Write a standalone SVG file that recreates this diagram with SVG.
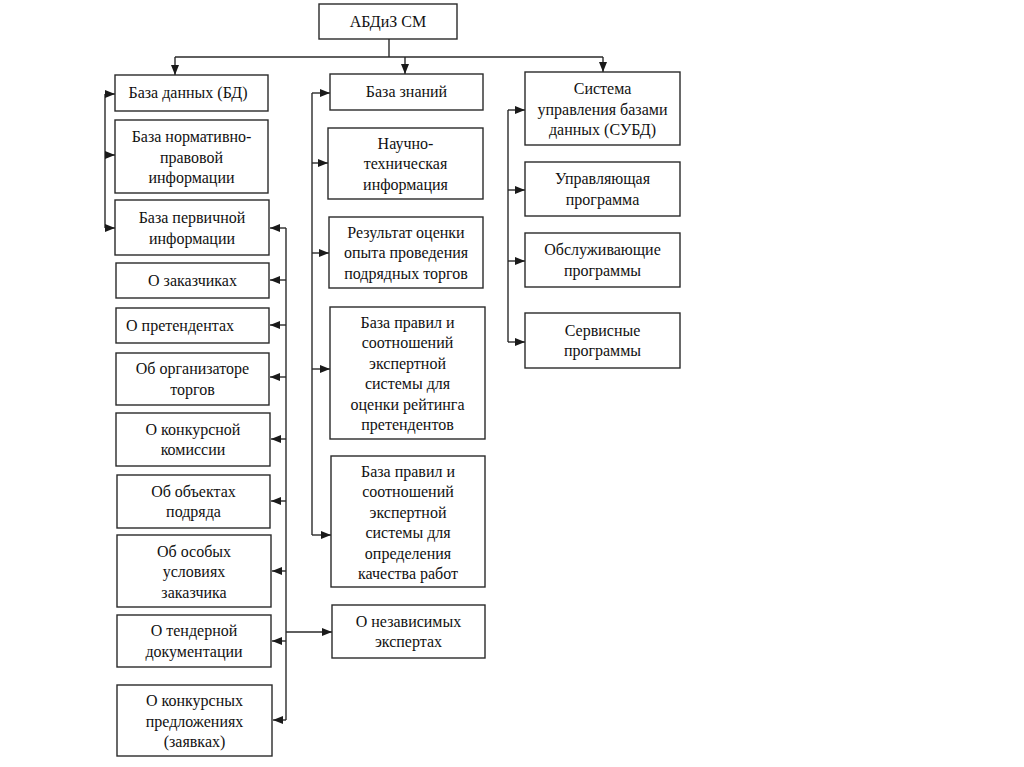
<svg xmlns="http://www.w3.org/2000/svg" width="1024" height="767" viewBox="0 0 1024 767">
<defs>
<marker id="ah" markerWidth="10" markerHeight="8" refX="10" refY="4" orient="auto" markerUnits="userSpaceOnUse">
<path d="M0,0 L10,4 L0,8 z" fill="#1a1a1a"/>
</marker>
<style>
.b rect{fill:#fff;stroke:#2a2a2a;stroke-width:1.4}
.b text{font-family:"Liberation Serif","Times New Roman",serif;font-size:16px;fill:#111;text-anchor:middle}
.c path{fill:none;stroke:#2a2a2a;stroke-width:1.4}
.c path.a{marker-end:url(#ah)}
</style>
</defs>
<rect width="1024" height="767" fill="#fff"/>
<g class="c" id="connectors">
<path d="M389,39 V57"/>
<path d="M175,57 H603"/>
<path class="a" d="M175,57 V75"/>
<path class="a" d="M405,57 V74"/>
<path class="a" d="M603,57 V72"/>
<path d="M105,94 V228"/>
<path class="a" d="M105,94 H115"/>
<path class="a" d="M105,155 H115"/>
<path class="a" d="M105,228 H115"/>
<path d="M286,228 V720"/>
<path class="a" d="M286,228 H270"/>
<path class="a" d="M286,280 H270"/>
<path class="a" d="M286,325 H270"/>
<path class="a" d="M286,377 H270"/>
<path class="a" d="M286,439 H271"/>
<path class="a" d="M286,501 H271"/>
<path class="a" d="M286,571 H272"/>
<path class="a" d="M286,641 H272"/>
<path class="a" d="M286,720 H273"/>
<path class="a" d="M286,632 H332"/>
<path d="M312,93 V535"/>
<path class="a" d="M312,93 H330"/>
<path class="a" d="M312,163 H328"/>
<path class="a" d="M312,253 H329"/>
<path class="a" d="M312,369 H330"/>
<path class="a" d="M312,535 H331"/>
<path d="M508,110 V342"/>
<path class="a" d="M508,110 H525"/>
<path class="a" d="M508,190 H525"/>
<path class="a" d="M508,261 H525"/>
<path class="a" d="M508,342 H525"/>
</g>
<g class="b" id="root"><rect x="319" y="4" width="138" height="35"/><text x="388" y="27">АБДиЗ СМ</text></g>
<g class="b" id="bd"><rect x="115" y="75" width="153" height="36"/><text x="188" y="98">База данных (БД)</text></g>
<g class="b" id="norm"><rect x="115" y="120" width="153" height="73"/><text x="191.5" y="142">База нормативно-</text><text x="191.5" y="162.5">правовой</text><text x="191.5" y="183">информации</text></g>
<g class="b" id="perv"><rect x="115" y="200" width="154" height="55"/><text x="192" y="223">База первичной</text><text x="192" y="243.5">информации</text></g>
<g class="b" id="zak"><rect x="116" y="263" width="153" height="35"/><text x="192.5" y="285.5">О заказчиках</text></g>
<g class="b" id="pret"><rect x="116" y="308" width="153" height="35"/><text x="180" y="330.5">О претендентах</text></g>
<g class="b" id="org"><rect x="116" y="353" width="153" height="52"/><text x="192.5" y="374">Об организаторе</text><text x="192.5" y="394.5">торгов</text></g>
<g class="b" id="kom"><rect x="116" y="413" width="154" height="53"/><text x="193" y="434.5">О конкурсной</text><text x="193" y="455">комиссии</text></g>
<g class="b" id="obj"><rect x="117" y="475" width="153" height="53"/><text x="193.5" y="496.5">Об объектах</text><text x="193.5" y="517">подряда</text></g>
<g class="b" id="osob"><rect x="117" y="535" width="154" height="72"/><text x="194" y="556.5">Об особых</text><text x="194" y="577">условиях</text><text x="194" y="597.5">заказчика</text></g>
<g class="b" id="tend"><rect x="117" y="615" width="154" height="52"/><text x="194" y="636">О тендерной</text><text x="194" y="656.5">документации</text></g>
<g class="b" id="konk"><rect x="117" y="685" width="155" height="71"/><text x="194.5" y="706">О конкурсных</text><text x="194.5" y="726.5">предложениях</text><text x="194.5" y="747">(заявках)</text></g>
<g class="b" id="bz"><rect x="330" y="74" width="153" height="36"/><text x="406.5" y="97">База знаний</text></g>
<g class="b" id="nt"><rect x="328" y="128" width="155" height="71"/><text x="405.5" y="148.5">Научно-</text><text x="405.5" y="169">техническая</text><text x="405.5" y="189.5">информация</text></g>
<g class="b" id="res"><rect x="329" y="217" width="154" height="71"/><text x="406" y="237.5">Результат оценки</text><text x="406" y="258">опыта проведения</text><text x="406" y="278.5">подрядных торгов</text></g>
<g class="b" id="bp1"><rect x="330" y="307" width="155" height="132"/><text x="407.5" y="327.5">База правил и</text><text x="407.5" y="348">соотношений</text><text x="407.5" y="368.5">экспертной</text><text x="407.5" y="389">системы для</text><text x="407.5" y="409.5">оценки рейтинга</text><text x="407.5" y="430">претендентов</text></g>
<g class="b" id="bp2"><rect x="331" y="456" width="154" height="131"/><text x="408" y="476.5">База правил и</text><text x="408" y="497">соотношений</text><text x="408" y="517.5">экспертной</text><text x="408" y="538">системы для</text><text x="408" y="558.5">определения</text><text x="408" y="579">качества работ</text></g>
<g class="b" id="nez"><rect x="332" y="605" width="153" height="53"/><text x="408.5" y="626.5">О независимых</text><text x="408.5" y="647">экспертах</text></g>
<g class="b" id="subd"><rect x="525" y="72" width="155" height="73"/><text x="602.5" y="94">Система</text><text x="602.5" y="114.5">управления базами</text><text x="602.5" y="135">данных (СУБД)</text></g>
<g class="b" id="upr"><rect x="525" y="162" width="155" height="54"/><text x="602.5" y="184">Управляющая</text><text x="602.5" y="204.5">программа</text></g>
<g class="b" id="obs"><rect x="525" y="233" width="155" height="54"/><text x="602.5" y="255">Обслуживающие</text><text x="602.5" y="275.5">программы</text></g>
<g class="b" id="serv"><rect x="525" y="313" width="155" height="55"/><text x="602.5" y="335.5">Сервисные</text><text x="602.5" y="356">программы</text></g>
</svg>
